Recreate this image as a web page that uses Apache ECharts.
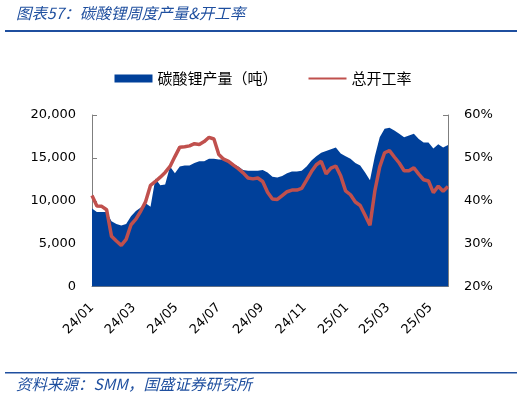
<!DOCTYPE html>
<html>
<head>
<meta charset="utf-8">
<script src="https://cdn.jsdelivr.net/npm/echarts@6/dist/echarts.min.js"></script>
<style>
html,body{margin:0;padding:0;background:#fff;}
#c{width:526px;height:398px;}
</style>
</head>
<body>
<div id="c"></div>
<script>
// Weekly dates
var dates = [
'2024-01-01','2024-01-08','2024-01-15','2024-01-22','2024-01-29',
'2024-02-05','2024-02-12','2024-02-19','2024-02-26',
'2024-03-04','2024-03-11','2024-03-18','2024-03-25',
'2024-04-01','2024-04-08','2024-04-15','2024-04-22','2024-04-29',
'2024-05-06','2024-05-13','2024-05-20','2024-05-27',
'2024-06-03','2024-06-10','2024-06-17','2024-06-24',
'2024-07-01','2024-07-08','2024-07-15','2024-07-22','2024-07-29',
'2024-08-05','2024-08-12','2024-08-19','2024-08-26',
'2024-09-02','2024-09-09','2024-09-16','2024-09-23','2024-09-30',
'2024-10-07','2024-10-14','2024-10-21','2024-10-28',
'2024-11-04','2024-11-11','2024-11-18','2024-11-25',
'2024-12-02','2024-12-09','2024-12-16','2024-12-23','2024-12-30',
'2025-01-06','2025-01-13','2025-01-20','2025-01-27',
'2025-02-03','2025-02-10','2025-02-17','2025-02-24',
'2025-03-03','2025-03-10','2025-03-17','2025-03-24','2025-03-31',
'2025-04-07','2025-04-14','2025-04-21','2025-04-28',
'2025-05-05','2025-05-12','2025-05-19','2025-05-26'
];
// 碳酸锂产量（吨）
var output = [
9100,8700,8700,8700,7600,7300,7100,7300,8200,8800,
9200,9700,9300,12600,11800,11900,14000,13200,14000,14100,
14100,14400,14600,14600,14900,14900,14800,14800,14600,14300,
14000,13600,13500,13500,13500,13600,13300,12800,12700,12900,
13200,13400,13400,13500,14000,14700,15200,15600,15800,16000,
16200,15500,15200,14900,14400,14100,13300,12400,15200,17400,
18400,18500,18200,17800,17400,17600,17800,17200,16800,16800,
16100,16600,16200,16500
];
// 总开工率（%）
var rate = [
41.2,38.8,38.7,37.9,31.7,30.6,29.6,31.0,34.4,35.7,
37.6,39.8,43.6,44.5,45.5,46.6,48.0,50.3,52.5,52.6,
52.8,53.3,53.1,53.8,54.8,54.4,50.8,49.7,49.2,48.3,
47.5,46.5,45.3,45.1,45.3,44.5,42.0,40.4,40.3,41.2,
42.1,42.5,42.5,42.9,44.8,46.8,48.4,49.2,46.3,47.6,
48.1,45.8,42.3,41.4,39.7,38.9,36.6,34.3,42.3,47.9,
51.2,51.7,50.2,48.8,47.0,47.0,47.7,46.2,44.9,44.6,
41.9,43.4,42.2,43.3
];
var tickDates = ['2024-01-01','2024-03-01','2024-05-01','2024-07-01','2024-09-01','2024-11-01','2025-01-01','2025-03-01','2025-05-01'];
var tickLabels = ['24/01','24/03','24/05','24/07','24/09','24/11','25/01','25/03','25/05'];
var leftTicks = [0, 5000, 10000, 15000, 20000];
var rightTicks = [20, 30, 40, 50, 60];

// day offset from first date (x position is computed by the axis scale)
function dayNo(s){var p=s.split('-');return Math.round(Date.UTC(+p[0],+p[1]-1,+p[2])/86400000);}
var d0 = dayNo(dates[0]);
function dx(s){return dayNo(s)-d0;}
var tickX = tickDates.map(dx);
var outData = dates.map(function(d,i){return [dx(d), output[i]];});
var rateData = dates.map(function(d,i){return [dx(d), rate[i]];});

var chart = echarts.init(document.getElementById('c'), null, {renderer:'canvas'});
var axisFont = 'DejaVu Sans';
var cjk = '"Noto Sans CJK SC"';
chart.setOption({
  animation:false,
  backgroundColor:'#fff',
  graphic:[
    {type:'text', left:16, top:5, style:{text:'图表57：碳酸锂周度产量&开工率', fill:'#1f4f9f', font:'italic 15.5px "Noto Sans CJK SC"'}},
    {type:'rect', shape:{x:5,y:30,width:512,height:2}, style:{fill:'#1f4f9f'}},
    {type:'rect', shape:{x:5,y:372,width:512,height:1.5}, style:{fill:'#1f4f9f'}},
    {type:'text', left:16, top:376, style:{text:'资料来源：SMM，国盛证券研究所', fill:'#1f4f9f', font:'italic 15.5px "Noto Sans CJK SC"'}}
  ],
  legend:{
    left:'center', top:66, itemWidth:38, itemHeight:8, itemGap:30,
    textStyle:{fontFamily:cjk, fontSize:15, color:'#000'},
    data:[{name:'碳酸锂产量（吨）', icon:'rect'},{name:'总开工率', itemStyle:{opacity:0}}]
  },
  grid:{left:92, right:78, top:115, bottom:111.5, containLabel:false},
  xAxis:{
    type:'value', min:0, max:dx(dates[dates.length-1]),
    axisLine:{show:true, onZero:false, lineStyle:{color:'#7f7f7f', width:1}},
    axisTick:{show:true, inside:true, length:5, lineStyle:{color:'#7f7f7f'}, customValues:tickX},
    axisLabel:{customValues:tickX, rotate:45, margin:19, color:'#000', fontFamily:axisFont, fontSize:13,
      formatter:function(v){var i=tickX.indexOf(v); return i>=0?tickLabels[i]:'';}},
    splitLine:{show:false}
  },
  yAxis:[
    {type:'value', min:leftTicks[0], max:leftTicks[leftTicks.length-1], interval:5000,
     axisLine:{show:true, lineStyle:{color:'#7f7f7f'}},
     axisTick:{show:true, inside:true, length:5, lineStyle:{color:'#7f7f7f'}},
     axisLabel:{margin:16, color:'#000', fontFamily:axisFont, fontSize:13,
       formatter:function(v){return v.toLocaleString('en-US');}},
     splitLine:{show:false}},
    {type:'value', min:rightTicks[0], max:rightTicks[rightTicks.length-1], interval:10, position:'right',
     axisLine:{show:true, lineStyle:{color:'#7f7f7f'}},
     axisTick:{show:true, inside:true, length:5, lineStyle:{color:'#7f7f7f'}},
     axisLabel:{margin:16, color:'#000', fontFamily:axisFont, fontSize:13, formatter:'{value}%'},
     splitLine:{show:false}}
  ],
  series:[
    {name:'碳酸锂产量（吨）', type:'line', yAxisIndex:0, data:outData, symbol:'none',
     lineStyle:{width:0}, itemStyle:{color:'#00409a'}, areaStyle:{color:'#00409a', opacity:1}, z:2},
    {name:'总开工率', type:'line', yAxisIndex:1, data:rateData, symbol:'none',
     lineStyle:{width:3.5, color:'#c0504d'}, itemStyle:{color:'#c0504d'}, z:3}
  ]
});
</script>
</body>
</html>
